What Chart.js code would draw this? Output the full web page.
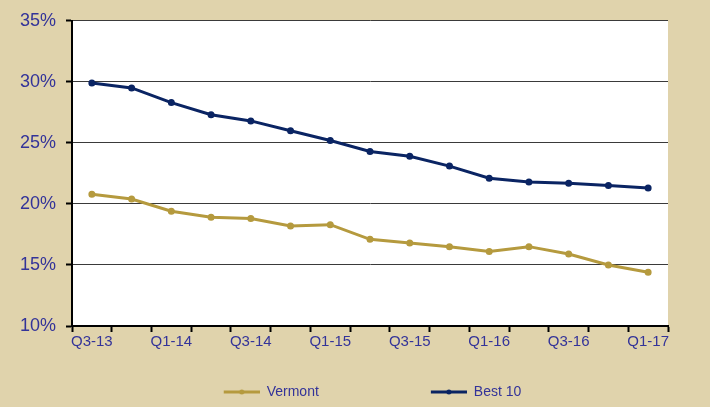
<!DOCTYPE html>
<html>
<head>
  <title>Vermont vs Best 10</title>
  <style>
    body { margin: 0; background: #E0D3AC; }
    canvas { display: block; }
  </style>
  <script src="https://cdn.jsdelivr.net/npm/chart.js"></script>
</head>
<body>
  <canvas id="chart" width="710" height="407"></canvas>

  <script>
    const quarters = ['Q3-13', 'Q4-13', 'Q1-14', 'Q2-14', 'Q3-14', 'Q4-14', 'Q1-15', 'Q2-15',
                      'Q3-15', 'Q4-15', 'Q1-16', 'Q2-16', 'Q3-16', 'Q4-16', 'Q1-17'];
    const vermont = [20.8, 20.4, 19.4, 18.9, 18.8, 18.2, 18.3, 17.1, 16.8, 16.5, 16.1, 16.5, 15.9, 15.0, 14.4];
    const best10 = [29.9, 29.5, 28.3, 27.3, 26.8, 26.0, 25.2, 24.3, 23.9, 23.1, 22.1, 21.8, 21.7, 21.5, 21.3];
    const seriesNames = ['Vermont', 'Best 10'];
    const seriesColors = ['#B59A3E', '#0A2463'];

    const textColor = '#333399';
    const fontFamily = "'Liberation Sans', Arial, sans-serif";

    // legend icon: line with a dot, drawn at the right end of a wider transparent box
    const iconWidth = 113;
    function legendIcon(color) {
      const c = document.createElement('canvas');
      c.width = iconWidth;
      c.height = 8;
      const g = c.getContext('2d');
      g.strokeStyle = color;
      g.lineWidth = 3;
      g.beginPath();
      g.moveTo(iconWidth - 36, 4);
      g.lineTo(iconWidth, 4);
      g.stroke();
      g.fillStyle = color;
      g.beginPath();
      g.arc(iconWidth - 18, 4, 2.5, 0, Math.PI * 2);
      g.fill();
      return c;
    }

    // white plot area
    const plotBackground = {
      id: 'plotBackground',
      beforeDraw(chart) {
        const { ctx, chartArea } = chart;
        ctx.save();
        ctx.fillStyle = '#ffffff';
        ctx.fillRect(chartArea.left, chartArea.top, chartArea.right - chartArea.left, chartArea.bottom - chartArea.top);
        ctx.restore();
      }
    };

    new Chart(document.getElementById('chart'), {
      type: 'line',
      data: {
        labels: quarters,
        datasets: [
          {
            label: seriesNames[0],
            data: vermont,
            borderColor: seriesColors[0],
            backgroundColor: seriesColors[0],
            borderWidth: 3,
            pointRadius: 2,
            pointHoverRadius: 2,
            tension: 0
          },
          {
            label: seriesNames[1],
            data: best10,
            borderColor: seriesColors[1],
            backgroundColor: seriesColors[1],
            borderWidth: 3,
            pointRadius: 2,
            pointHoverRadius: 2,
            tension: 0
          }
        ]
      },
      options: {
        responsive: false,
        animation: false,
        layout: { padding: { left: 0, top: 20, right: 42, bottom: 0 } },
        plugins: {
          tooltip: { enabled: false },
          legend: {
            position: 'bottom',
            maxHeight: 57,
            labels: {
              usePointStyle: true,
              pointStyleWidth: iconWidth,
              padding: 35,
              color: textColor,
              font: { family: fontFamily, size: 14 },
              generateLabels(chart) {
                const items = Chart.defaults.plugins.legend.labels.generateLabels(chart);
                items.forEach((item, i) => { item.pointStyle = legendIcon(seriesColors[i]); });
                return items;
              }
            }
          }
        },
        scales: {
          x: {
            offset: true,
            afterFit(scale) { scale.height = 24; },
            grid: {
              display: true,
              offset: true,
              drawOnChartArea: false,
              drawTicks: true,
              tickLength: 6,
              tickColor: '#000000',
              tickWidth: 2
            },
            border: { color: '#000000', width: 2 },
            ticks: {
              autoSkip: false,
              maxRotation: 0,
              padding: 1,
              color: textColor,
              font: { family: fontFamily, size: 15 },
              callback: function (value, index) {
                return index % 2 === 0 ? this.getLabelForValue(value) : '';
              }
            }
          },
          y: {
            min: 10,
            max: 35,
            afterFit(scale) { scale.width = 72; },
            grid: {
              color: '#3a3a3a',
              lineWidth: 1,
              tickLength: 6,
              tickColor: '#000000',
              tickWidth: 2
            },
            border: { color: '#000000', width: 2 },
            ticks: {
              stepSize: 5,
              padding: 10,
              color: textColor,
              font: { family: fontFamily, size: 18 },
              callback: function (value) {
                return value + '%';
              }
            }
          }
        }
      },
      plugins: [plotBackground]
    });
  </script>
</body>
</html>
